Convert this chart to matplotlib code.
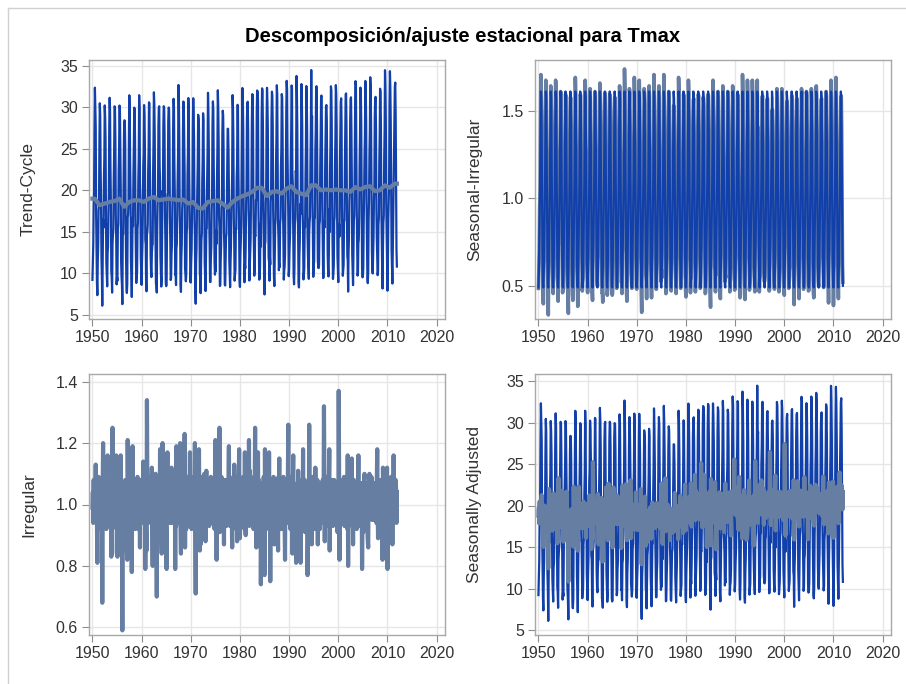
import numpy as np
import matplotlib
matplotlib.use("Agg")
import matplotlib.pyplot as plt
from matplotlib.lines import Line2D

plt.rcParams['font.family'] = ['Liberation Sans', 'DejaVu Sans']

# annual trend-cycle level of Tmax (deg C), 1950..2011
years = np.arange(1950, 2012)
trend_level = [19.0, 18.2, 18.4, 18.6, 18.7, 19.0, 18.0, 18.6, 18.8, 18.8,
               18.6, 19.0, 19.2, 18.8, 18.9, 19.0, 18.9, 18.8, 18.9, 18.4,
               18.6, 17.9, 17.8, 18.6, 18.7, 18.8, 18.4, 17.9, 18.6, 19.0,
               19.3, 19.5, 19.8, 20.3, 20.3, 19.3, 19.8, 19.9, 19.6, 20.2,
               20.5, 19.8, 19.6, 19.4, 20.6, 20.6, 20.0, 20.1, 20.0, 20.1,
               20.0, 20.0, 19.8, 20.4, 20.1, 20.4, 20.5, 19.9, 20.0, 20.6,
               20.3, 20.8]

# seasonal factors Jan..Dec
seasonal = [0.49, 0.58, 0.75, 0.88, 1.08, 1.38, 1.61, 1.57, 1.30, 0.95, 0.66, 0.50]

# irregular component, % deviation from 1, one row per year (Jan..Dec)
irregular_pct = [
    [-1, 4, -6, 8, -3, 5, 6, 2, 13, -4, 7, -5],
    [-19, 6, -3, 9, -8, 3, 4, 1, -5, 8, -2, 6],
    [-32, 5, 20, -4, 7, -6, 2, 0, 9, -3, -8, 6],
    [-7, 16, -5, 6, -3, 8, 4, 1, -6, 5, -17, 3],
    [-16, 25, 4, -7, 6, -4, 0, 2, 7, -5, 16, -8],
    [3, -17, 8, -4, 9, -6, -1, 1, 5, 16, -7, 4],
    [-5, -41, 6, -8, 4, 7, -2, 0, 8, -6, 5, -9],
    [-15, -18, 21, 5, -6, 3, 5, 2, -4, 9, -7, 6],
    [-22, 7, 19, -5, 8, -3, -1, 1, 6, -8, 4, -6],
    [6, -7, 9, -3, 5, -8, 4, 1, -14, 7, -4, 8],
    [-6, 8, -4, 6, 14, -5, 1, -1, 5, -21, 9, -7],
    [-15, 34, 6, -4, 9, -6, 0, 2, -5, 8, -3, 7],
    [2, 12, -7, -20, 6, -3, 3, 1, 8, -5, 10, -8],
    [-6, -30, 5, 9, -4, 7, -1, 2, -6, 18, -3, 6],
    [-9, -16, 8, 20, -5, 6, -1, 1, 9, -4, 12, -7],
    [-9, -21, 6, 17, -4, 8, -2, 0, 7, -6, 11, -3],
    [2, 12, -6, 8, -3, 6, 2, 1, -5, 9, -21, 5],
    [-7, 19, -4, 7, 5, -6, 8, 4, 6, -3, 20, -8],
    [-16, 9, -5, 7, -8, 4, 1, 2, 6, 23, -14, 5],
    [-1, -8, 7, -5, 9, -4, 5, 1, -7, 6, 17, -3],
    [-2, 6, -8, 5, -3, 7, 4, 0, 9, -6, 20, -10],
    [-29, 7, -5, 9, 4, -6, 1, 2, 18, -3, -15, 6],
    [-13, 8, 5, -6, 9, -4, 2, 1, -7, 10, -5, 7],
    [-12, 6, 11, -5, 7, -3, 6, 1, 4, -7, 8, -4],
    [-2, 9, -6, 7, -4, 8, 2, 1, -5, 6, -8, 5],
    [21, -6, 8, -18, 5, -3, 6, 2, 7, -5, 25, -9],
    [-6, 7, -4, 9, -7, 5, 0, 1, 6, -13, 8, -5],
    [-4, 8, 6, -7, -5, -6, -5, -3, 7, 19, -4, 9],
    [-7, 6, -5, 8, -4, -14, 5, 2, 7, -6, 13, -3],
    [7, -5, 9, -8, 5, -12, -1, 1, -6, 8, 18, -4],
    [-11, 8, -5, -6, 7, 4, 4, 2, 9, -4, 6, -8],
    [17, -6, -10, 8, -4, 6, -3, 0, 7, -5, 21, -7],
    [11, 7, -5, 9, -6, 3, -1, 1, 6, -8, 5, -3],
    [7, 25, -4, 6, -14, 5, -2, 0, 17, -6, 8, -9],
    [-6, -9, 5, -26, -8, 4, -1, 1, 7, -5, 9, -7],
    [-23, 18, -6, 8, -5, 6, 4, 1, 9, -4, -8, 17],
    [-5, 6, -25, 7, -8, 5, 0, 1, 8, -6, 9, -4],
    [-13, 8, 6, -5, 7, -4, 2, 1, -6, -15, 9, 5],
    [15, -6, 8, -4, 7, -8, 0, 1, 6, -5, 9, -7],
    [6, -7, -18, 8, -4, 5, 2, 1, -6, 9, 26, -5],
    [5, 9, -6, -8, 4, -5, -1, 1, -16, 7, 16, -4],
    [-12, -8, 6, -5, 4, -19, 6, 2, 7, -6, 11, -9],
    [-14, 5, -7, 6, -19, -8, 4, 1, 8, -6, 18, -5],
    [5, -6, 8, -9, 4, -5, 4, 1, 6, -23, -8, 7],
    [-5, 26, 7, -6, 5, -4, 4, -13, 8, -5, 9, -7],
    [9, -5, 7, -8, 12, -4, -2, 1, 6, 8, -13, 5],
    [7, -6, 5, -8, 6, -4, -3, 0, 7, -5, 8, -6],
    [-3, 32, 8, -12, 6, -5, -7, -4, 9, 7, -6, 5],
    [-2, 7, 18, -15, 5, -6, 1, 2, 8, -4, 6, -7],
    [2, -6, 8, -5, 7, -4, 1, 0, 6, -7, -9, 5],
    [-9, 37, 6, -18, 7, -4, -5, -1, 8, -6, 5, -3],
    [6, -5, 9, -7, 5, -3, -2, 1, 7, -6, -8, 16],
    [-20, 8, -5, 7, -6, 4, -3, 0, 6, 15, -7, 5],
    [-13, 6, 8, -5, 7, 4, 1, 2, -6, -8, 5, -4],
    [2, 16, -7, -5, 6, -4, 0, 1, 7, 5, -21, -6],
    [-3, -9, 6, 8, 10, -5, 1, 0, 7, -6, 5, -8],
    [-12, -14, 7, 5, 10, -4, 2, 1, 6, 9, -5, 4],
    [1, 6, -5, 7, -4, 5, -3, 0, 6, -6, 8, 18],
    [0, -11, 6, -5, 8, -4, 0, 1, 7, -6, 5, 8],
    [-18, 12, 5, -6, 7, -4, 4, 1, 6, -5, 9, 12],
    [-21, -6, 7, 5, -4, 8, 5, 1, 6, 9, -5, 7],
    [-13, 6, 5, 16, 7, -5, -3, 1, 8, 5, -6, 4],
]

x_ticks = [1950, 1960, 1970, 1980, 1990, 2000, 2010, 2020]

# monthly series
t = (years[:, None] + np.arange(12)[None, :] / 12.0).ravel()
irr = 1 + np.array(irregular_pct, dtype=float).ravel() / 100.0
seas = np.tile(seasonal, len(years))

# trend-cycle: 2x12 centred moving average of the annual levels
w = np.r_[0.5, np.ones(11), 0.5] / 12.0
lev = np.repeat(trend_level, 12)
trend = np.convolve(np.pad(lev, 6, mode='edge'), w, mode='valid')

tmax = trend * seas * irr
si = tmax / trend
sa = tmax / seas

BLUE = '#1240aa'
GREY = '#677ea3'

fig = plt.figure(figsize=(9.06, 6.84), dpi=100)
W, H = 906, 684


def make_ax(l, t_, r, b):
    return fig.add_axes([l / W, 1 - b / H, (r - l) / W, (b - t_) / H])


def style(ax, ylim, yticks, ylabel, fmt):
    ax.set_xlim(1949.3, 2021.7)
    ax.set_ylim(*ylim)
    ax.set_xticks(x_ticks)
    ax.set_yticks(yticks)
    ax.set_yticklabels([fmt.format(v) for v in yticks])
    ax.grid(True, color='#e6e6e6', lw=1.0, zorder=0)
    ax.set_axisbelow(True)
    for s in ax.spines.values():
        s.set_color('#a8a8a8')
        s.set_linewidth(1.0)
    ax.tick_params(direction='out', length=5, width=0.8, color='#8c8c8c',
                   labelsize=11.5, labelcolor='#333333', pad=3)
    ax.set_ylabel(ylabel, fontsize=12.5, color='#333333')
    ax.yaxis.set_label_coords(-53 / 356, 0.5)


ax1 = make_ax(89, 60, 445, 319)
ax1.plot(t, tmax, color=BLUE, lw=1.6, zorder=2)
ax1.plot(t, trend, color=GREY, lw=3.0, zorder=3)
style(ax1, (4.5, 35.7), [5, 10, 15, 20, 25, 30, 35], 'Trend-Cycle', '{:g}')

ax2 = make_ax(535, 60, 891, 319)
ax2.plot(t, si, color=GREY, lw=2.6, zorder=2)
ax2.plot(t, seas, color=BLUE, lw=1.6, zorder=3)
style(ax2, (0.31, 1.79), [0.5, 1.0, 1.5], 'Seasonal-Irregular', '{:.1f}')

ax3 = make_ax(89, 374, 445, 635)
ax3.plot(t, irr, color=GREY, lw=3.0, zorder=2)
style(ax3, (0.575, 1.425), [0.6, 0.8, 1.0, 1.2, 1.4], 'Irregular', '{:.1f}')

ax4 = make_ax(535, 374, 891, 635)
ax4.plot(t, tmax, color=BLUE, lw=1.6, zorder=2)
ax4.plot(t, sa, color=GREY, lw=3.0, zorder=3)
style(ax4, (4.4, 35.9), [5, 10, 15, 20, 25, 30, 35], 'Seasonally Adjusted', '{:g}')

fig.text(463 / W, 1 - 36 / H, 'Descomposición/ajuste estacional para Tmax',
         ha='center', va='center', fontsize=14.5, fontweight='bold', color='#000000')

# outer frame, top and left edges
fig.add_artist(Line2D([8 / W, 8 / W], [0, 1 - 8 / H], color='#d0d0d0', lw=1.0))
fig.add_artist(Line2D([8 / W, 1], [1 - 8 / H, 1 - 8 / H], color='#d0d0d0', lw=1.0))

fig.savefig('out.png', dpi=100)
